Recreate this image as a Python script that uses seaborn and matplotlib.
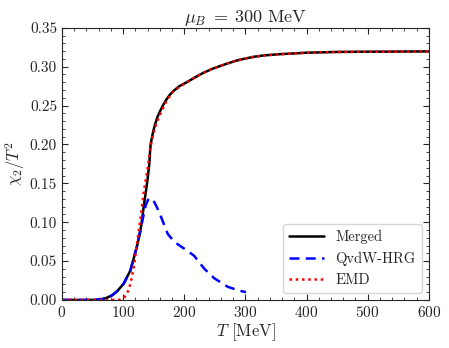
import numpy as np
import pandas as pd
import matplotlib
matplotlib.use("Agg")
import matplotlib.pyplot as plt
import seaborn as sns
from matplotlib.ticker import MultipleLocator

# --- data ---
T_hrg = [0, 20, 40, 55, 65, 74, 82, 90, 101, 112, 123, 131, 137, 141, 144, 147, 151,
         156, 162, 173, 184, 200, 216, 233, 249, 271, 290, 301]
chi_hrg = [0, 0, 0, 0.0002, 0.001, 0.003, 0.006, 0.011, 0.021, 0.038, 0.070, 0.100,
           0.122, 0.129, 0.131, 0.130, 0.126, 0.118, 0.107, 0.085, 0.0745, 0.066,
           0.057, 0.040, 0.028, 0.017, 0.012, 0.010]

T_emd = [0, 50, 90, 96, 100, 105, 110, 114, 118, 123, 129, 134, 140, 145, 149, 154,
         160, 166, 171, 177, 182, 192, 204, 217, 231, 245, 258, 272, 286, 300, 313,
         330, 354, 400, 450, 500, 550, 600]
chi_emd = [0, 0, 0, 0.0005, 0.002, 0.006, 0.015, 0.028, 0.045, 0.074, 0.108, 0.140,
           0.168, 0.198, 0.213, 0.226, 0.238, 0.248, 0.256, 0.263, 0.268, 0.274,
           0.280, 0.286, 0.292, 0.297, 0.3005, 0.3045, 0.308, 0.3105, 0.3125,
           0.3145, 0.316, 0.318, 0.319, 0.3193, 0.3195, 0.3197]

T_merged = [0, 20, 40, 55, 65, 74, 82, 90, 101, 112, 123, 128, 131, 134, 137, 140,
            143, 144, 145, 149, 152, 156, 160, 165, 171, 176, 182, 192, 204, 217,
            231, 245, 258, 272, 286, 300, 313, 330, 354, 400, 450, 500, 550, 600]
chi_merged = [0, 0, 0, 0.0002, 0.001, 0.003, 0.006, 0.011, 0.021, 0.038, 0.070, 0.088,
              0.103, 0.122, 0.138, 0.155, 0.176, 0.190, 0.200, 0.216, 0.225, 0.235,
              0.242, 0.250, 0.258, 0.2635, 0.2686, 0.275, 0.280, 0.286, 0.292,
              0.297, 0.3007, 0.3045, 0.308, 0.3105, 0.3127, 0.3145, 0.316, 0.318,
              0.319, 0.3193, 0.3195, 0.3197]

sns.set_style("ticks")
plt.rcParams.update({
    "font.family": "serif",
    "font.serif": ["cmr10"],
    "mathtext.fontset": "cm",
    "axes.formatter.use_mathtext": True,
    "xtick.direction": "in",
    "ytick.direction": "in",
    "xtick.top": True,
    "ytick.right": True,
})

fig = plt.figure(figsize=(4.49, 3.48), dpi=100)
ax = fig.add_axes([0.138, 0.138, 0.817, 0.782])

sns.lineplot(x=T_merged, y=chi_merged, ax=ax, color="black", lw=1.8, label="Merged")
sns.lineplot(x=T_hrg, y=chi_hrg, ax=ax, color="blue", lw=1.8, ls=(0, (4, 2.5)),
             label="QvdW-HRG")
sns.lineplot(x=T_emd, y=chi_emd, ax=ax, color="red", lw=1.8, ls=(0, (1, 1.5)),
             label="EMD")

ax.set_xlim(0, 600)
ax.set_ylim(0, 0.35)
ax.xaxis.set_major_locator(MultipleLocator(100))
ax.xaxis.set_minor_locator(MultipleLocator(20))
ax.yaxis.set_major_locator(MultipleLocator(0.05))
ax.yaxis.set_minor_locator(MultipleLocator(0.01))
ax.yaxis.set_major_formatter(matplotlib.ticker.FormatStrFormatter("%.2f"))
ax.tick_params(which="both", top=True, right=True, direction="in", labelsize=11)
ax.tick_params(which="major", length=4)
ax.tick_params(which="minor", length=2)

ax.set_title(r"$\mu_B\;=\;300~\mathrm{MeV}$", fontsize=13, pad=4)
ax.set_xlabel(r"$T$ [MeV]", fontsize=12, labelpad=1)
ax.set_ylabel(r"$\chi_2/T^2$", fontsize=12, labelpad=2)

ax.legend(loc="lower right", fontsize=10.5, handlelength=2.4, frameon=True)

fig.savefig("out.png", dpi=100)
